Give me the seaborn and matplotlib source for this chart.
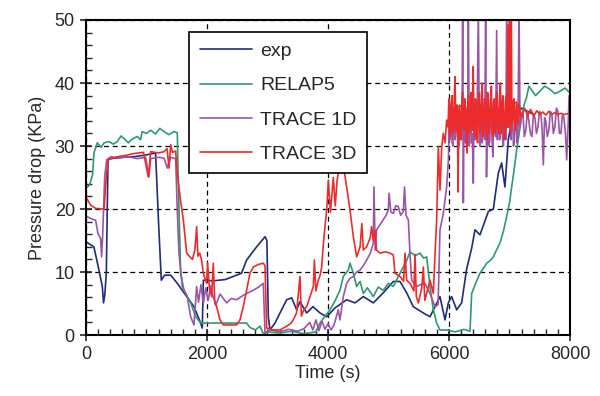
import numpy as np
import pandas as pd
import matplotlib
matplotlib.use("Agg")
import matplotlib.pyplot as plt
from matplotlib.ticker import MultipleLocator
import seaborn as sns

# ---------------------------------------------------------------- data
# (time [s], pressure drop [KPa])

exp_pts = [(0, 14.8), (130, 14.0), (190, 11.4), (270, 7.7), (290, 5.1), (310, 6.3), (336, 9.8),
           (364, 27.8), (400, 28.0), (600, 28.2), (800, 28.3), (1000, 28.6), (1150, 28.9),
           (1200, 17.8), (1245, 8.7), (1300, 9.5), (1400, 9.5), (1510, 8.2), (1620, 6.7),
           (1785, 4.5), (1895, 1.9), (1922, 1.1), (1940, 8.7), (2100, 8.6), (2300, 8.8),
           (2570, 9.8), (2655, 11.9), (2820, 14.0), (2960, 15.6), (2990, 15.0), (3014, 2.9),
           (3041, 0.8), (3124, 1.9), (3207, 3.5), (3317, 5.6), (3400, 5.9), (3482, 4.0),
           (3537, 5.3), (3647, 3.5), (3752, 4.5), (3868, 3.5), (3978, 2.9), (4116, 4.3),
           (4309, 5.6), (4446, 5.1), (4584, 6.1), (4749, 5.1), (4914, 6.7), (5080, 8.5),
           (5190, 8.5), (5300, 6.7), (5410, 4.5), (5575, 3.5), (5686, 2.9), (5851, 6.1),
           (5934, 2.4), (5989, 5.1), (6044, 6.1), (6127, 4.0), (6209, 5.1), (6292, 10.5),
           (6375, 13.8), (6430, 16.7), (6512, 15.9), (6650, 19.6), (6733, 20.0), (6815, 25.7),
           (6870, 27.3), (6925, 23.5), (6980, 31.0), (7036, 34.0), (7200, 36.0), (7400, 35.0)]

relap_pts = [(0, 23.3), (60, 23.8), (110, 25.5), (132, 28.9), (187, 30.5), (250, 29.8),
             (300, 30.5), (380, 30.7), (450, 30.3), (518, 30.7), (580, 31.6), (628, 31.2),
             (700, 30.5), (738, 30.9), (800, 31.3), (848, 31.5), (900, 31.0), (930, 32.3),
             (1000, 32.0), (1069, 32.5), (1150, 31.9), (1220, 32.8), (1289, 32.3), (1370, 31.8),
             (1455, 32.3), (1509, 32.1), (1526, 24.0), (1565, 9.8), (1620, 7.1), (1730, 5.1),
             (1813, 2.9), (1896, 1.9), (1950, 1.9), (2200, 1.9), (2450, 1.9), (2655, 1.9),
             (2710, 1.2), (2800, 0.8), (2876, 1.4), (2931, 0.2), (3000, 0.5), (3200, 0.3),
             (3400, 0.6), (3600, 0.2), (3800, 0.5), (3868, 1.9), (3950, 3.0), (4033, 4.0),
             (4120, 5.5), (4198, 7.1), (4253, 9.3), (4336, 10.3), (4364, 11.4), (4419, 9.8),
             (4474, 7.7), (4530, 8.5), (4584, 6.6), (4650, 7.5), (4749, 6.1), (4830, 7.6),
             (4914, 7.1), (5000, 8.2), (5080, 7.7), (5162, 9.3), (5245, 10.8), (5300, 11.8),
             (5355, 13.2), (5440, 12.6), (5521, 13.0), (5580, 12.2), (5631, 12.4), (5686, 7.7),
             (5741, 4.0), (5796, 1.9), (5851, 0.8), (5961, 0.8), (6100, 0.5), (6250, 0.9),
             (6347, 0.6), (6375, 6.6), (6440, 8.2), (6512, 9.8), (6570, 10.6), (6623, 11.4),
             (6680, 11.8), (6733, 12.4), (6790, 13.6), (6843, 14.6), (6900, 16.5), (6953, 18.8),
             (7000, 21.0), (7036, 23.5), (7080, 26.5), (7119, 29.4), (7160, 32.0), (7202, 34.7),
             (7240, 36.5), (7284, 37.8), (7320, 39.5), (7367, 38.9), (7430, 38.0), (7504, 38.7),
             (7580, 39.5), (7669, 39.0), (7750, 38.3), (7835, 38.7), (7920, 39.2), (8000, 38.4)]

trace1d_pts = [(0, 18.9), (77, 18.5), (160, 18.2), (198, 16.1), (242, 15.3), (258, 12.4),
               (275, 15.6), (309, 25.1), (342, 27.8), (408, 28.3), (550, 28.1), (683, 28.3),
               (850, 28.0), (987, 28.2), (1040, 25.1), (1069, 28.0), (1200, 28.2), (1289, 28.1),
               (1344, 26.5), (1400, 28.2), (1482, 28.0), (1509, 19.8), (1537, 13.0), (1592, 7.7),
               (1674, 6.1), (1730, 2.9), (1785, 1.6), (1829, 7.7), (1860, 5.2), (1900, 8.0),
               (1940, 5.0), (1980, 7.5), (2020, 5.5), (2060, 7.8), (2100, 6.1), (2150, 4.8),
               (2215, 6.5), (2325, 5.1), (2400, 5.8), (2490, 5.6), (2600, 6.3), (2700, 6.8),
               (2766, 7.1), (2850, 7.6), (2931, 8.2), (2959, 0.3),
               (3050, 0.8), (3200, 0.5), (3350, 0.9), (3500, 0.6), (3600, 1.0), (3700, 2.0),
               (3750, 0.8), (3800, 2.4), (3850, 0.7), (3900, 2.2), (3950, 0.9), (4000, 1.8),
               (4050, 0.8), (4100, 1.6), (4170, 4.0), (4198, 2.4), (4253, 6.1), (4309, 8.2),
               (4364, 9.0), (4419, 9.3), (4474, 10.0), (4529, 10.3), (4584, 11.0), (4639, 11.9),
               (4700, 13.0), (4749, 14.6), (4760, 23.5), (4780, 13.5), (4804, 16.7), (4860, 17.5),
               (4914, 18.3), (4960, 19.0), (4997, 19.8), (5010, 22.5), (5040, 19.5), (5080, 19.3),
               (5120, 20.5), (5162, 20.4), (5200, 19.0), (5245, 19.6), (5265, 23.5), (5290, 19.0),
               (5328, 18.3), (5355, 13.0), (5383, 8.7), (5465, 7.7), (5530, 8.0), (5603, 8.2),
               (5686, 6.6), (5769, 4.5), (5820, 4.8), (5851, 16.7), (5906, 19.3), (5961, 23.5),
               (5990, 27.8), (6002, 33.0), (6015, 31.0), (6027, 36.5), (6040, 35.0), (6052, 30.5),
               (6065, 30.0), (6077, 36.0), (6090, 36.0), (6102, 31.0), (6115, 32.0), (6127, 36.5),
               (6140, 34.5), (6152, 29.5), (6165, 30.0), (6177, 35.5), (6190, 35.0), (6202, 31.0),
               (6215, 33.0), (6226, 52.0), (6237, 21.0), (6248, 35.0), (6260, 34.0), (6272, 30.5),
               (6285, 31.0), (6297, 36.0), (6310, 36.0), (6320, 52.0), (6335, 30.0), (6347, 35.5),
               (6360, 35.0), (6372, 30.5), (6385, 32.0), (6402, 24.1), (6412, 35.0), (6425, 36.0),
               (6437, 31.0), (6450, 31.5), (6467, 36.5), (6485, 52.0), (6500, 33.0), (6512, 30.0),
               (6525, 36.5), (6537, 31.5), (6550, 30.5), (6562, 36.0), (6575, 35.0), (6590, 31.0),
               (6606, 52.0), (6620, 25.1), (6635, 35.0), (6650, 34.0), (6662, 30.0), (6675, 31.0),
               (6687, 36.5), (6700, 36.0), (6712, 31.0), (6725, 28.3), (6737, 35.5), (6750, 35.0),
               (6770, 31.5), (6788, 48.3), (6800, 31.0), (6812, 36.0), (6825, 36.0), (6837, 31.0),
               (6850, 32.0), (6862, 37.0), (6875, 37.0), (6887, 30.5), (6900, 30.0), (6912, 35.5),
               (6925, 35.0), (6940, 31.0), (6953, 52.0), (6970, 33.0), (6990, 36.0), (7008, 52.0),
               (7025, 31.0), (7037, 35.5), (7050, 35.0), (7065, 30.0), (7080, 30.5), (7095, 35.0),
               (7110, 34.0), (7125, 30.5), (7140, 32.0), (7157, 52.0), (7175, 33.0), (7197, 35.0),
               (7220, 35.5), (7245, 31.5), (7270, 32.5), (7295, 35.5), (7320, 34.0), (7345, 32.0),
               (7370, 31.5), (7395, 35.0), (7420, 34.5), (7445, 32.0), (7470, 33.0), (7495, 35.5),
               (7520, 35.0), (7540, 32.5), (7559, 27.0), (7580, 34.5), (7600, 34.0), (7625, 31.5),
               (7650, 32.5), (7675, 35.5), (7700, 35.0), (7725, 32.0), (7750, 33.0), (7775, 36.0),
               (7800, 35.5), (7825, 32.0), (7850, 32.0), (7875, 35.0), (7900, 34.5), (7925, 32.0),
               (7945, 27.8), (7970, 33.5), (7985, 38.0), (8000, 34.0)]

trace3d_pts = [(0, 21.9), (77, 20.6), (160, 20.1), (298, 20.0), (336, 25.1), (364, 27.8),
               (518, 28.3), (650, 28.5), (793, 28.8), (950, 29.0), (1030, 25.1), (1069, 29.1),
               (1200, 28.9), (1289, 29.1), (1340, 29.6), (1372, 26.5), (1400, 30.2), (1430, 29.0),
               (1482, 29.2), (1509, 25.7), (1554, 22.0), (1609, 18.3), (1664, 13.0), (1719, 12.4),
               (1760, 12.0), (1800, 13.5), (1829, 17.2), (1850, 12.5), (1880, 13.0), (1911, 11.9),
               (1939, 9.8), (1994, 8.2), (2010, 11.4), (2040, 7.5), (2077, 6.1), (2104, 11.4),
               (2130, 5.0), (2160, 4.5), (2215, 2.4), (2270, 1.6), (2380, 1.6), (2490, 1.6),
               (2545, 2.4), (2600, 4.5), (2655, 7.1), (2710, 9.8), (2766, 10.8), (2850, 11.2),
               (2931, 11.4), (2959, 11.0), (2986, 1.1), (3096, 0.8), (3207, 0.8), (3317, 1.4),
               (3380, 1.8), (3427, 2.4), (3480, 3.5), (3537, 9.3), (3560, 3.0), (3600, 4.0),
               (3648, 4.5), (3700, 6.0), (3758, 7.7), (3775, 11.9), (3800, 7.0), (3840, 8.7),
               (3870, 9.5), (3896, 10.8), (3920, 14.0), (3950, 17.2), (3980, 20.0), (4006, 24.6),
               (4040, 19.5), (4088, 25.0), (4120, 20.5), (4150, 24.5), (4198, 27.2),
               (4253, 27.0), (4309, 23.5), (4364, 19.8), (4419, 15.6), (4474, 12.4), (4530, 14.0),
               (4560, 17.7), (4584, 13.5), (4639, 14.0), (4700, 15.5), (4720, 17.2), (4749, 15.1),
               (4780, 16.5), (4800, 13.5), (4859, 13.0), (4950, 13.2), (5025, 13.0), (5080, 12.7),
               (5107, 9.8), (5190, 9.3), (5250, 8.5), (5273, 13.0), (5300, 8.7), (5355, 8.2),
               (5420, 7.0), (5438, 12.8), (5460, 6.1), (5493, 5.1), (5550, 7.5), (5576, 10.8),
               (5600, 5.5), (5631, 6.6), (5686, 8.7), (5741, 6.6), (5770, 13.0), (5796, 18.3),
               (5824, 29.9), (5851, 23.0), (5880, 29.9), (5906, 32.0), (5935, 30.5), (5961, 34.1),
               (5985, 33.0), (5993, 36.0), (6000, 37.5), (6012, 32.0), (6025, 31.5), (6037, 37.0),
               (6050, 38.0), (6062, 33.0), (6075, 32.0), (6087, 37.5), (6100, 41.0), (6112, 32.5),
               (6125, 33.5), (6137, 36.5), (6150, 22.7), (6162, 35.0), (6175, 36.5), (6187, 31.5),
               (6200, 31.0), (6212, 37.0), (6225, 38.5), (6237, 33.0), (6250, 32.5), (6262, 37.5),
               (6275, 36.0), (6287, 31.0), (6300, 28.9), (6312, 37.0), (6325, 38.0), (6337, 32.0),
               (6350, 33.0), (6362, 38.5), (6375, 37.5), (6387, 32.5), (6400, 42.6), (6412, 33.0),
               (6425, 31.5), (6437, 37.5), (6450, 37.0), (6462, 31.0), (6475, 30.5), (6487, 37.0),
               (6500, 38.5), (6512, 32.0), (6525, 33.0), (6537, 38.0), (6550, 40.0), (6562, 31.5),
               (6575, 32.0), (6587, 37.5), (6600, 37.0), (6612, 32.5), (6625, 31.0), (6637, 38.5),
               (6650, 38.0), (6662, 32.0), (6675, 34.0), (6687, 37.0), (6700, 39.5), (6712, 32.5),
               (6725, 31.5), (6737, 37.0), (6750, 37.5), (6762, 32.0), (6775, 33.0), (6787, 38.5),
               (6800, 38.0), (6812, 32.5), (6825, 32.0), (6837, 37.0), (6850, 40.0), (6862, 32.0),
               (6875, 33.5), (6887, 38.0), (6900, 37.0), (6912, 31.0), (6925, 31.5), (6937, 37.5),
               (6950, 38.0), (6962, 33.0), (6975, 49.2), (6990, 33.0), (7000, 51.0), (7015, 32.0),
               (7030, 51.0), (7040, 33.5), (7050, 34.0), (7062, 37.0), (7075, 37.5), (7087, 32.5),
               (7100, 33.0), (7112, 37.0), (7125, 36.5), (7137, 33.5), (7150, 34.0), (7162, 36.5),
               (7175, 35.5), (7200, 34.5), (7250, 36.0), (7300, 34.8), (7350, 35.8), (7400, 34.7),
               (7450, 35.6), (7500, 35.0), (7550, 35.4), (7600, 34.9), (7650, 35.5), (7700, 35.0),
               (7750, 35.3), (7800, 35.0), (7850, 35.2), (7900, 35.0), (8000, 35.2)]

labels = ['exp', 'RELAP5', 'TRACE 1D', 'TRACE 3D']
colors = ['#1f2c78', '#2e9a6c', '#9a55a8', '#ee2b2b']

# ---------------------------------------------------------------- plot
sns.set_style('ticks')
plt.rcParams['font.family'] = ['Liberation Sans', 'DejaVu Sans']

fig = plt.figure(figsize=(6, 3.96), dpi=100)
ax = fig.add_axes([0.1433, 0.154, 0.8067, 0.7955])

for pts, lab, col in zip([exp_pts, relap_pts, trace1d_pts, trace3d_pts], labels, colors):
    d = pd.DataFrame(pts, columns=['Time', 'dp'])
    sns.lineplot(data=d, x='Time', y='dp', ax=ax, color=col, lw=1.2,
                 label=lab, sort=False, estimator=None)

ax.set_xlim(0, 8000)
ax.set_ylim(0, 50)
ax.xaxis.set_major_locator(MultipleLocator(2000))
ax.xaxis.set_minor_locator(MultipleLocator(200))
ax.yaxis.set_major_locator(MultipleLocator(10))
ax.yaxis.set_minor_locator(MultipleLocator(2))
ax.tick_params(which='major', direction='inout', length=8, width=1.2, labelsize=13,
               top=False, right=False, pad=4)
ax.tick_params(which='minor', direction='in', length=4, width=1.0, top=False, right=False)
ax.grid(True, which='major', color='black', linestyle=(0, (4, 3)), lw=0.9)
for s in ax.spines.values():
    s.set_linewidth(1.5)
    s.set_color('black')

ax.set_xlabel('Time (s)', fontsize=13, labelpad=1)
ax.set_ylabel('Pressure drop (KPa)', fontsize=13, labelpad=6)

leg = ax.legend(loc='upper left', bbox_to_anchor=(0.213, 0.962), borderaxespad=0,
                fontsize=14, frameon=True, fancybox=False, framealpha=1,
                edgecolor='black', handlelength=2.7, handletextpad=0.4,
                labelspacing=0.85, borderpad=0.55)
leg.get_frame().set_linewidth(1.2)

plt.savefig('out.png', dpi=100)
